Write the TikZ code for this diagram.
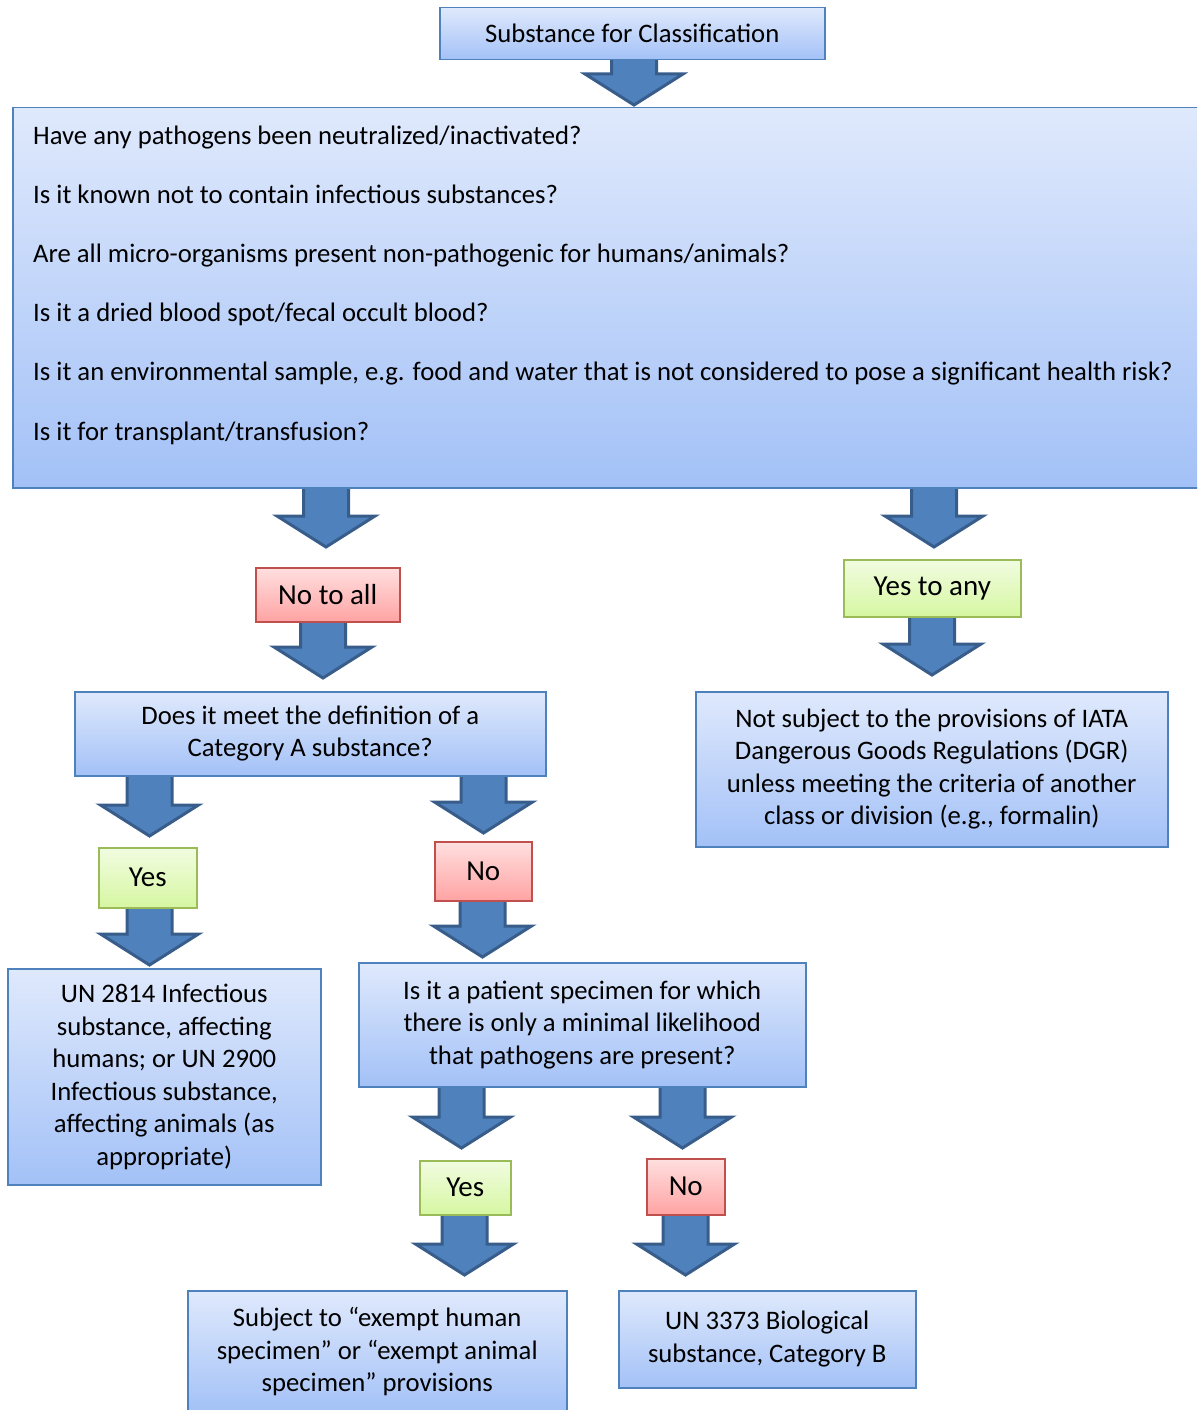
\documentclass[tikz,border=0pt]{standalone}
\usepackage{fontspec}
\setmainfont{Carlito}
\definecolor{btop}{HTML}{DFE9FC}
\definecolor{bbot}{HTML}{A3C1F7}
\definecolor{bdr}{HTML}{4F81BD}
\definecolor{rtop}{HTML}{FFDFDF}
\definecolor{rbot}{HTML}{FFA3A3}
\definecolor{rdr}{HTML}{C0504D}
\definecolor{gtop}{HTML}{F1FCE1}
\definecolor{gbot}{HTML}{D6F7A1}
\definecolor{gdr}{HTML}{9BBB59}
\definecolor{afill}{HTML}{4F81BD}
\definecolor{adr}{HTML}{385D8A}
\tikzset{
  box/.style={draw=bdr, line width=1.5pt, top color=btop, bottom color=bbot,
    align=center, font=\fontsize{26.7}{32.5}\selectfont, inner sep=0pt, anchor=north west},
  redbox/.style={box, draw=rdr, top color=rtop, bottom color=rbot, font=\fontsize{29}{35}\selectfont},
  greenbox/.style={box, draw=gdr, top color=gtop, bottom color=gbot, font=\fontsize{29}{35}\selectfont},
  qtext/.style={anchor=base west, inner sep=0pt, font=\fontsize{26.7}{32.5}\selectfont},
  blkarr/.style={fill=afill, draw=adr, line width=3pt, line join=miter}
}
\newcommand\blkarrow[3]{%
  \draw[blkarr] ({#1-22.5},#2) -- ({#1-22.5},{#3-33}) -- ({#1-49},{#3-33}) -- (#1,{#3-2})
    -- ({#1+49},{#3-33}) -- ({#1+22.5},{#3-33}) -- ({#1+22.5},#2) -- cycle;}
\begin{document}
\begin{tikzpicture}[x=1pt,y=-1pt]
\useasboundingbox (0,0) rectangle (1197,1410);
\clip (0,0) rectangle (1197,1410);
% block arrows (drawn beneath the boxes)
\blkarrow{634}{58}{107}
\blkarrow{326}{486}{549}
\blkarrow{934}{486}{549}
\blkarrow{323}{620}{680}
\blkarrow{932}{615}{677}
\blkarrow{149.5}{774}{838}
\blkarrow{483.5}{774}{835}
\blkarrow{149.5}{906}{967}
\blkarrow{482.5}{899}{959}
\blkarrow{461.5}{1085}{1150}
\blkarrow{682.5}{1085}{1150}
\blkarrow{464.5}{1213}{1277}
\blkarrow{685.5}{1213}{1277}
% boxes
\node[box, minimum width=385pt, minimum height=52pt] (title) at (439,7) {Substance for Classification};
\node[box, minimum width=1220pt, minimum height=380pt] (big) at (12,107) {};
\node[qtext] (q1) at (33,144) {Have any pathogens been neutralized/inactivated?};
\node[qtext] (q2) at (33,203.2) {Is it known not to contain infectious substances?};
\node[qtext] (q3) at (33,262.4) {Are all micro-organisms present non-pathogenic for humans/animals?};
\node[qtext] (q4) at (33,321.6) {Is it a dried blood spot/fecal occult blood?};
\node[qtext] (q5) at (33,380.8) {Is it an environmental sample, e.g. food and water that is not considered to pose a significant health risk?};
\node[qtext] (q6) at (33,440) {Is it for transplant/transfusion?};
\node[redbox, minimum width=144pt, minimum height=54pt] (noall) at (255,567) {No to all};
\node[greenbox, minimum width=177pt, minimum height=57pt] (yesany) at (843,559) {Yes to any};
\node[box, minimum width=471pt, minimum height=84pt] (catA) at (74,691) {Does it meet the definition of a\\Category A substance?};
\node[box, minimum width=472pt, minimum height=155pt] (notsubj) at (695,691) {Not subject to the provisions of IATA\\Dangerous Goods Regulations (DGR)\\unless meeting the criteria of another\\class or division (e.g., formalin)};
\node[greenbox, minimum width=98pt, minimum height=60pt] (yes1) at (98,847) {Yes};
\node[redbox, minimum width=97pt, minimum height=59pt] (no1) at (434,841) {No};
\node[box, minimum width=313pt, minimum height=216pt] (un2814) at (7,968) {UN 2814 Infectious\\substance, affecting\\humans; or UN 2900\\Infectious substance,\\affecting animals (as\\appropriate)};
\node[box, minimum width=447pt, minimum height=124pt] (patient) at (358,962) {Is it a patient specimen for which\\there is only a minimal likelihood\\that pathogens are present?};
\node[greenbox, minimum width=91pt, minimum height=54pt] (yes2) at (419,1160) {Yes};
\node[redbox, minimum width=78pt, minimum height=56pt] (no2) at (646,1158) {No};
\node[box, minimum width=379pt, minimum height=122pt] (exempt) at (187,1290) {Subject to “exempt human\\specimen” or “exempt animal\\specimen” provisions};
\node[box, minimum width=297pt, minimum height=97pt] (un3373) at (618,1290) {UN 3373 Biological\\substance, Category B};
\end{tikzpicture}
\end{document}
